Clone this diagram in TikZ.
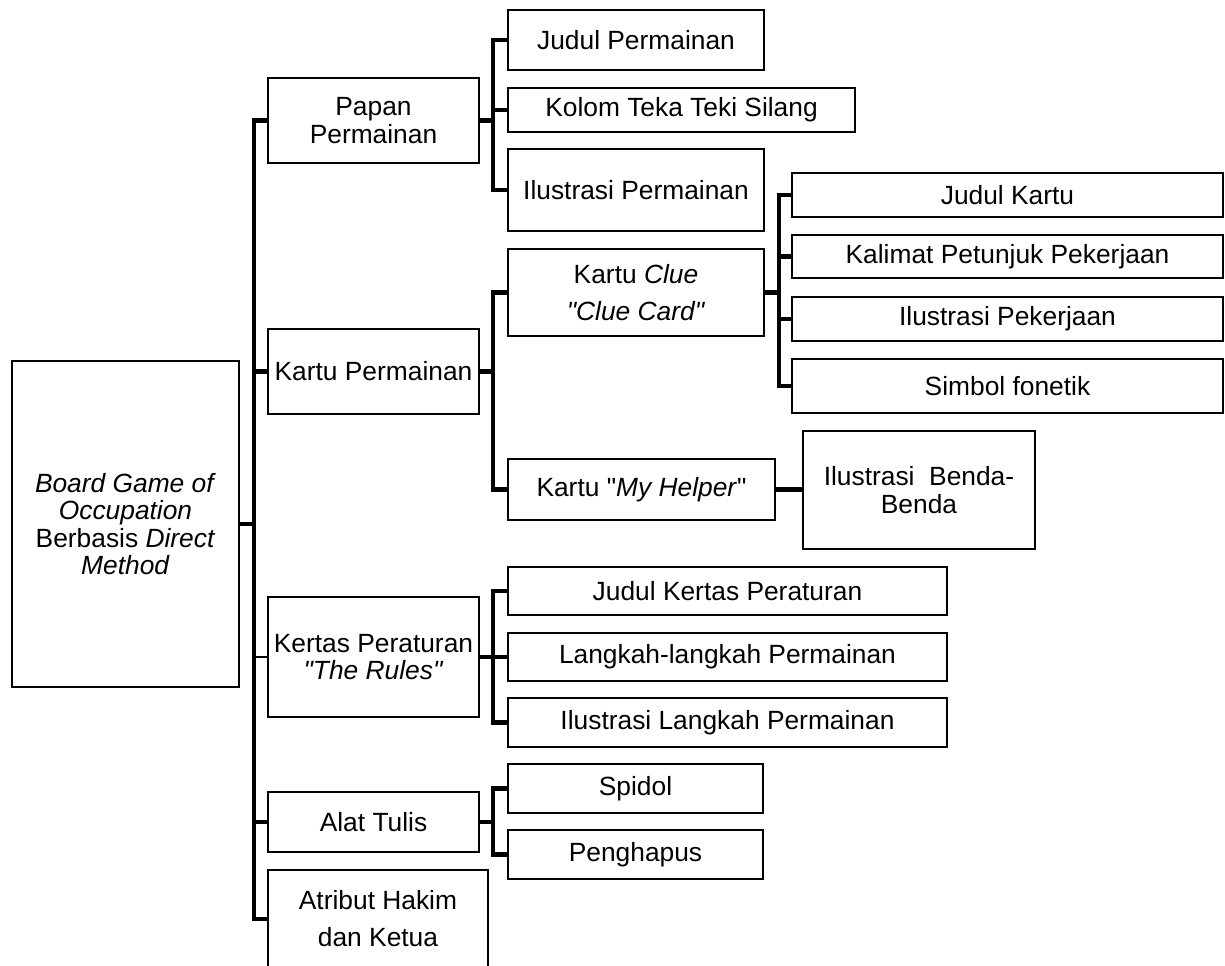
\documentclass[tikz,border=0pt]{standalone}
\usepackage{fontspec}
\setmainfont{Liberation Sans}[Ligatures=TeXOff]
\newcommand{\mybox}[7][]{%
  \pgfmathsetmacro{\bw}{(#5-#3)*0.02}%
  \pgfmathsetmacro{\bh}{(#6-#4)*0.02}%
  \node[box,#1,minimum width=\bw cm,minimum height=\bh cm] (#2) at ({(#3+#5)/2},{(#4+#6)/2}) {#7};}
\begin{document}
\begin{tikzpicture}[x=0.02cm,y=-0.02cm,
  box/.style={draw, line width=1.3pt, inner sep=0pt, outer sep=0pt, align=center,
    font=\fontsize{15}{15.6}\selectfont},
  wide/.style={font=\fontsize{15}{21}\selectfont},
  conn/.style={line width=2.7pt, line join=miter},
  thinconn/.style={line width=0.8pt}]
\useasboundingbox (0,0) rectangle (1225,966);
% boxes
\mybox{root}{12}{361}{239}{687}{\textit{Board Game of}\\\textit{Occupation}\\Berbasis \textit{Direct}\\\textit{Method}}
\mybox{papan}{268}{78}{479}{163}{Papan\\Permainan}
\mybox{kartup}{268}{329}{479}{414}{Kartu Permainan}
\mybox{kertas}{268}{597}{479}{717}{Kertas Peraturan\\\textit{"The Rules"}}
\mybox{alat}{268}{792}{479}{852}{Alat Tulis}
\mybox[wide]{atribut}{268}{870}{488}{968}{Atribut Hakim\\dan Ketua}
\mybox{judulp}{508}{10}{764}{70}{Judul Permainan}
\mybox{kolom}{508}{88}{855}{132}{Kolom Teka Teki Silang}
\mybox{ilusp}{508}{149}{764}{231}{Ilustrasi Permainan}
\mybox[wide]{clue}{508}{249}{764}{336}{Kartu \textit{Clue}\\\textit{"Clue Card"}}
\mybox{helper}{508}{459}{775}{520}{Kartu "\textit{My Helper}"}
\mybox{benda}{803}{431}{1035}{549}{Ilustrasi\ \ Benda-\\Benda}
\mybox{judulk}{792}{173}{1223}{217}{Judul Kartu}
\mybox{kalimat}{792}{235}{1223}{278}{Kalimat Petunjuk Pekerjaan}
\mybox{ilusk}{792}{297}{1223}{341}{Ilustrasi Pekerjaan}
\mybox{simbol}{792}{359}{1223}{413}{Simbol fonetik}
\mybox{judulr}{508}{567}{947}{615}{Judul Kertas Peraturan}
\mybox{langkah}{508}{633}{947}{681}{Langkah-langkah Permainan}
\mybox{ilusl}{508}{698}{947}{747}{Ilustrasi Langkah Permainan}
\mybox{spidol}{508}{764}{763}{813}{Spidol}
\mybox{penghapus}{508}{830}{763}{879}{Penghapus}
% bracket x positions
\coordinate (tr) at (254,0);
\coordinate (b2) at (493,0);
\coordinate (b3) at (779,0);
% trunk
\draw[conn] (papan.west) -- (papan.west -| tr) -- (atribut.west -| tr) -- (atribut.west);
\draw[conn] (root.east) -- (root.east -| tr);
\draw[conn] (kartup.west) -- (kartup.west -| tr);
\draw[thinconn] (kertas.west) -- (kertas.west -| tr);
\draw[conn] (alat.west) -- (alat.west -| tr);
% Papan bracket
\draw[conn] (judulp.west) -- (judulp.west -| b2) -- (ilusp.west -| b2) -- (ilusp.west);
\draw[conn] (papan.east) -- (papan.east -| b2);
\draw[conn] (kolom.west) -- (kolom.west -| b2);
% Kartu Permainan bracket
\draw[conn] (clue.west) -- (clue.west -| b2) -- (helper.west -| b2) -- (helper.west);
\draw[conn] (kartup.east) -- (kartup.east -| b2);
% Clue bracket
\draw[conn] (judulk.west) -- (judulk.west -| b3) -- (simbol.west -| b3) -- (simbol.west);
\draw[conn] (clue.east) -- (clue.east -| b3);
\draw[conn] (kalimat.west) -- (kalimat.west -| b3);
\draw[conn] (ilusk.west) -- (ilusk.west -| b3);
% Helper
\draw[conn] (helper.east) -- (benda.west |- helper.east);
% Kertas bracket
\draw[conn] (judulr.west) -- (judulr.west -| b2) -- (ilusl.west -| b2) -- (ilusl.west);
\draw[conn] (kertas.east) -- (kertas.east -| b2);
\draw[conn] (langkah.west) -- (langkah.west -| b2);
% Alat bracket
\draw[conn] (spidol.west) -- (spidol.west -| b2) -- (penghapus.west -| b2) -- (penghapus.west);
\draw[conn] (alat.east) -- (alat.east -| b2);
\end{tikzpicture}
\end{document}
